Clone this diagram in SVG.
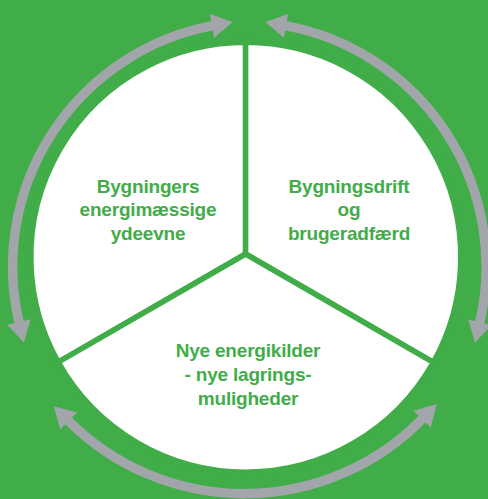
<svg xmlns="http://www.w3.org/2000/svg" width="488" height="499" viewBox="0 0 488 499">
  <style>
    .bg { fill: #41ad49; }
    .sector { fill: #ffffff; stroke: #41ad49; stroke-width: 5.5; stroke-linejoin: miter; }
    .label { font-family: "Liberation Sans", Arial, sans-serif; font-weight: bold; font-size: 19px; fill: #41ad49; text-anchor: middle; letter-spacing: -0.2px; }
    .cycle { fill: none; stroke: #a2a5aa; stroke-width: 9.5; marker-start: url(#ah); marker-end: url(#ah); }
  </style>
  <defs>
    <marker id="ah" markerUnits="userSpaceOnUse" markerWidth="22" markerHeight="26" refX="1" refY="13" orient="auto-start-reverse" overflow="visible">
      <path d="M0,1 L21,13 L0,25 Z" fill="#a2a5aa"/>
    </marker>
  </defs>
  <rect class="bg" x="0" y="0" width="488" height="499"/>

  <g id="node-bygningers-ydeevne">
    <path class="sector" d="M245.6,254 L58.19,362.2 A215,215 0 0 1 245.6,42.2 Z"/>
    <text class="label" x="148" y="192.5">Bygningers<tspan x="148" dy="23.5">energimæssige</tspan><tspan x="148" dy="23.5">ydeevne</tspan></text>
  </g>

  <g id="node-bygningsdrift">
    <path class="sector" d="M245.6,254 L245.6,42.2 A215,215 0 0 1 433.31,362.38 Z"/>
    <text class="label" x="349" y="192.5">Bygningsdrift<tspan x="349" dy="23.5">og</tspan><tspan x="349" dy="23.5">brugeradfærd</tspan></text>
  </g>

  <g id="node-nye-energikilder">
    <path class="sector" d="M245.6,254 L433.31,362.38 A215,215 0 0 1 58.19,362.2 Z"/>
    <text class="label" x="248" y="357">Nye energikilder<tspan x="248" dy="24">- nye lagrings-</tspan><tspan x="248" dy="24">muligheder</tspan></text>
  </g>

  <g id="connectors">
    <path class="cycle" d="M19.2,323 A245,245 0 0 1 213,25.7"/>
    <path class="cycle" d="M285,25.7 A245,245 0 0 1 479.6,323.2"/>
    <path class="cycle" d="M68,420.3 A249,249 0 0 0 422.85,418.35"/>
  </g>
</svg>
